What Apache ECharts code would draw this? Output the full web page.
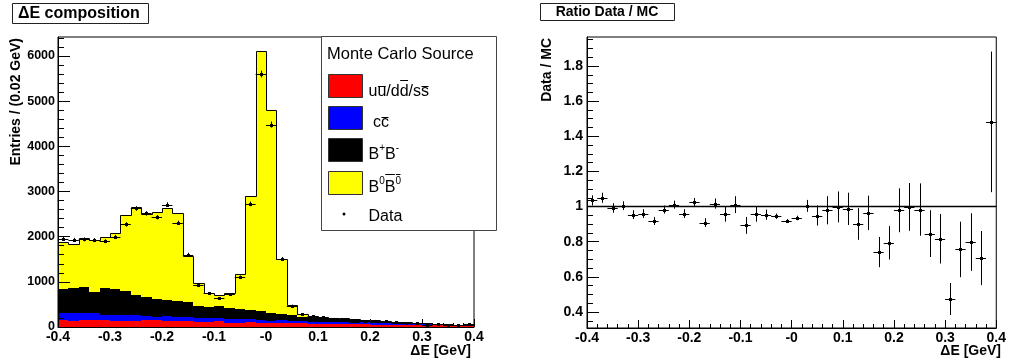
<!DOCTYPE html>
<html><head><meta charset="utf-8">
<script src="https://cdn.jsdelivr.net/npm/echarts@6/dist/echarts.min.js"></script>
<style>html,body{margin:0;padding:0;background:#fff}#c{width:1009px;height:364px}</style>
</head><body><div id="c"></div><script>
// ---------------- data ----------------
const binCenters = [-0.39,-0.37,-0.35,-0.33,-0.31,-0.29,-0.27,-0.25,-0.23,-0.21,-0.19,-0.17,-0.15,-0.13,-0.11,-0.09,-0.07,-0.05,-0.03,-0.01,
  0.01,0.03,0.05,0.07,0.09,0.11,0.13,0.15,0.17,0.19,0.21,0.23,0.25,0.27,0.29,0.31,0.33,0.35,0.37,0.39];
const BIN_W = 0.02;
const udsCounts = [148,140,160,162,160,140,135,140,145,145,140,140,130,110,105,125,85,90,100,95,80,95,85,80,75,70,75,70,60,65,55,50,50,45,45,40,35,35,30,30];
const ccCounts = [160,160,145,140,110,125,130,125,90,85,95,90,85,90,95,75,90,80,75,65,60,50,50,45,45,40,45,40,35,35,30,28,26,24,22,20,18,16,14,12];
const bpbmCounts = [540,563,580,465,585,583,539,450,421,397,370,338,331,265,249,265,238,228,201,201,176,143,130,107,95,90,70,70,75,55,57,49,36,33,25,22,19,12,9,4];
const b0b0Counts = [1040,981,1077,1158,1143,1232,1666,1947,1837,1910,2035,1962,1034,501,293,243,346,767,2515,5745,4484,1217,233,63,30,22,17,12,8,5,4,3,3,3,3,3,3,2,2,1];
const dataCounts = [1950,1930,1940,1925,1900,1995,2270,2625,2515,2430,2710,2305,1605,922,750,633,724,1108,2725,5600,4480,1510,474,289,244,219,187,185,132,127,143,130,113,89,78,40,57,52,39,67];
const dataErr = [44,44,44,44,44,45,48,51,50,49,52,48,40,30,27,25,27,33,52,75,67,39,22,17,16,15,14,14,11,11,12,11,11,9,9,6,8,7,6,8];
const ratioValues = [1.035,1.05,0.992,1.005,0.954,0.96,0.918,0.983,1.011,0.96,1.024,0.909,1.017,0.956,1.011,0.893,0.956,0.954,0.945,0.918,
  0.935,1.004,0.949,0.979,0.998,0.987,0.901,0.964,0.741,0.794,0.979,0.998,0.983,0.846,0.817,0.474,0.756,0.798,0.707,1.482];
const ratioErr = [0.029,0.029,0.027,0.025,0.025,0.025,0.023,0.023,0.023,0.025,0.025,0.025,0.029,0.042,0.048,0.048,0.042,0.029,0.015,0.011,
  0.013,0.034,0.057,0.08,0.088,0.092,0.09,0.098,0.086,0.095,0.125,0.136,0.149,0.133,0.141,0.091,0.158,0.164,0.154,0.40];
const ratioRef = 1;
const xTickValues = [-0.4,-0.3,-0.2,-0.1,0,0.1,0.2,0.3,0.4];
const xTickLabels = ['-0.4','-0.3','-0.2','-0.1','-0','0.1','0.2','0.3','0.4'];
const leftYTicks = [0,1000,2000,3000,4000,5000,6000];
const leftYLabels = ['0','1000','2000','3000','4000','5000','6000'];
const rightYTicks = [0.4,0.6,0.8,1,1.2,1.4,1.6,1.8];
const rightYLabels = ['0.4','0.6','0.8','1','1.2','1.4','1.6','1.8'];
const layerNames = ['uu/dd/ss','cc','B+B-','B0B0'];
const layerColors = ['#ff0000','#0000ff','#000000','#ffff00'];

// ---------------- helpers ----------------
const FONT = '"Liberation Sans", Arial, Helvetica, sans-serif';
const LEFT_MAX = 6420, RIGHT_MIN = 0.309, RIGHT_MAX = 1.965;
function minorList(lo, hi, step, majors) {
  const out = [];
  for (let v = lo; v <= hi + 1e-9; v += step) {
    const r = Math.round(v * 1e6) / 1e6;
    if (!majors.some(m => Math.abs(m - r) < 1e-9)) out.push(r);
  }
  return out;
}
const leftYMinor = minorList(200, 6400, 200, leftYTicks);
const rightYMinor = minorList(0.35, 1.95, 0.05, rightYTicks);

function labelFrom(vals, labels) {
  return v => { const i = vals.findIndex(t => Math.abs(t - v) < 1e-6); return i >= 0 ? labels[i] : ''; };
}

function barItem(params, api) {
  const c = api.value(0), lo = api.value(1), hi = api.value(2);
  const a = api.coord([c - BIN_W / 2, hi]);
  const b = api.coord([c + BIN_W / 2, lo]);
  const x0 = Math.round(a[0]), x1 = Math.round(b[0]);
  const y0 = Math.round(a[1]), y1 = Math.round(b[1]);
  return { type: 'rect', shape: { x: x0, y: y0, width: x1 - x0, height: y1 - y0 }, style: { fill: api.visual('color') } };
}
function outlineItem(params, api) {
  const c = api.value(0), t = api.value(1), prev = api.value(2), last = api.value(3);
  const p1 = api.coord([c - BIN_W / 2, prev]);
  const p2 = api.coord([c - BIN_W / 2, t]);
  const p3 = api.coord([c + BIN_W / 2, t]);
  const xa = Math.round(p1[0]) + 0.5, xb = Math.round(p3[0]) + 0.5, y = Math.round(p2[1]) + 0.5;
  const pts = [[xa, Math.round(p1[1]) + 0.5], [xa, y], [xb, y]];
  if (last) { const p4 = api.coord([c + BIN_W / 2, 0]); pts.push([xb, p4[1]]); }
  return { type: 'polyline', shape: { points: pts }, style: { stroke: '#000', lineWidth: 1, fill: null } };
}
function errItem(params, api) {
  const c = api.value(0), v = api.value(1), e = api.value(2);
  const pl = api.coord([c - BIN_W / 2, v]), pr = api.coord([c + BIN_W / 2, v]);
  const pt = api.coord([c, v + e]), pb = api.coord([c, v - e]);
  const y = Math.round(pl[1]) + 0.5, x = Math.round(pt[0]) + 0.5;
  return { type: 'group', children: [
    { type: 'line', shape: { x1: pl[0], y1: y, x2: pr[0], y2: y }, style: { stroke: '#000', lineWidth: 1 } },
    { type: 'line', shape: { x1: x, y1: pt[1], x2: x, y2: pb[1] }, style: { stroke: '#000', lineWidth: 1 } },
    { type: 'rect', shape: { x: x - 1.5, y: y - 1.5, width: 3, height: 3 }, style: { fill: '#000' } }
  ] };
}

// stacked layers
const layers = [udsCounts, ccCounts, bpbmCounts, b0b0Counts];
let base = binCenters.map(() => 0);
const stackSeries = layers.map((arr, k) => {
  const d = arr.map((v, i) => [binCenters[i], base[i], base[i] + v]);
  base = base.map((b, i) => b + arr[i]);
  return { type: 'custom', name: layerNames[k], xAxisIndex: 0, yAxisIndex: 0, renderItem: barItem, data: d,
    itemStyle: { color: layerColors[k] }, encode: { x: 0, y: [1, 2] }, silent: true, z: 2 };
});
const totals = base;
const outlineData = totals.map((t, i) => [binCenters[i], t, i > 0 ? totals[i - 1] : 0, i === totals.length - 1 ? 1 : 0]);

// ---------------- legend & texts (graphic) ----------------
const mctx = document.createElement('canvas').getContext('2d');
function tw(t, font) { mctx.font = font; return mctx.measureText(t).width; }
function seqText(x, baseline, segs) {
  const els = []; let cx = x;
  segs.forEach(s => {
    const size = s.size || 16;
    const font = size + 'px ' + FONT;
    const w = tw(s.t, font);
    const bl = baseline + (s.dy || 0);
    els.push({ type: 'text', x: cx, y: bl - 0.3465 * size, z: 101,
      style: { text: s.t, font: font, fill: '#000', align: 'left', verticalAlign: 'middle' } });
    if (s.bar != null) {
      els.push({ type: 'line', z: 101, shape: { x1: cx + 0.5, y1: s.bar, x2: cx + w - 0.5, y2: s.bar },
        style: { stroke: '#000', lineWidth: 1 } });
    }
    cx += w;
  });
  return els;
}
const graphics = [];
// title boxes
graphics.push({ type: 'rect', z: 100, shape: { x: 12.5, y: 3.5, width: 136, height: 20 }, style: { fill: '#fff', stroke: '#222', lineWidth: 1 } });
graphics.push({ type: 'text', z: 101, x: 18, y: 13.5, style: { text: '\u0394E composition', font: 'bold 16px ' + FONT, fill: '#000', align: 'left', verticalAlign: 'middle' } });
graphics.push({ type: 'rect', z: 100, shape: { x: 540.5, y: 3.5, width: 134, height: 17 }, style: { fill: '#fff', stroke: '#222', lineWidth: 1 } });
graphics.push({ type: 'text', z: 101, x: 607, y: 12.5, style: { text: 'Ratio Data / MC', font: 'bold 14px ' + FONT, fill: '#000', align: 'center', verticalAlign: 'middle' } });
// axis titles
graphics.push({ type: 'text', z: 101, x: 16, y: 38, rotation: Math.PI / 2, style: { text: 'Entries / (0.02 GeV)', font: 'bold 14px ' + FONT, fill: '#000', align: 'right', verticalAlign: 'middle' } });
graphics.push({ type: 'text', z: 101, x: 547, y: 38, rotation: Math.PI / 2, style: { text: 'Data / MC', font: 'bold 14px ' + FONT, fill: '#000', align: 'right', verticalAlign: 'middle' } });
graphics.push({ type: 'text', z: 101, x: 471, y: 351, style: { text: '\u0394E [GeV]', font: 'bold 14px ' + FONT, fill: '#000', align: 'right', verticalAlign: 'middle' } });
graphics.push({ type: 'text', z: 101, x: 1001, y: 351, style: { text: '\u0394E [GeV]', font: 'bold 14px ' + FONT, fill: '#000', align: 'right', verticalAlign: 'middle' } });
// legend box
graphics.push({ type: 'rect', z: 100, shape: { x: 321.5, y: 36.5, width: 175, height: 194 }, style: { fill: '#fff', stroke: '#444', lineWidth: 1 } });
graphics.push(...seqText(327, 60.5, [{ t: 'Monte Carlo Source', size: 16.5 }]));
const swY = [74, 106, 138, 171];
swY.forEach((y, k) => graphics.push({ type: 'rect', z: 101, shape: { x: 328.5, y: y + 0.5, width: 34, height: 23 }, style: { fill: layerColors[k], stroke: '#333', lineWidth: 1 } }));
graphics.push(...seqText(368.5, 96.7, [{ t: 'u' }, { t: 'u', bar: 86.5 }, { t: '/' }, { t: 'd' }, { t: 'd', bar: 80.5 }, { t: '/' }, { t: 's' }, { t: 's', bar: 86.5 }]));
graphics.push(...seqText(373, 128.5, [{ t: 'c' }, { t: 'c', bar: 117.5 }]));
graphics.push(...seqText(368.5, 160.5, [{ t: 'B' }, { t: '+', size: 10, dy: -9 }, { t: 'B' }, { t: '-', size: 10, dy: -9 }]));
graphics.push(...seqText(368.5, 193.5, [{ t: 'B' }, { t: '0', size: 10, dy: -9 }, { t: 'B', bar: 174.5 }, { t: '0', size: 10, dy: -9, bar: 174.5 }]));
graphics.push({ type: 'circle', z: 101, shape: { cx: 344, cy: 214, r: 1.5 }, style: { fill: '#000' } });
graphics.push(...seqText(368.5, 222.5, [{ t: 'Data' }]));

// ---------------- axes ----------------
const labelStyle = { fontFamily: FONT, fontWeight: 'bold', fontSize: 14, color: '#000' };
function xAxisCfg(gi) {
  return { gridIndex: gi, type: 'value', min: -0.4, max: 0.4, interval: 0.1,
    axisLine: { show: true, onZero: false, lineStyle: { color: '#000', width: 1 } },
    axisTick: { show: true, inside: true, length: 8, lineStyle: { color: '#000' } },
    minorTick: { show: true, splitNumber: 5, length: 4, lineStyle: { color: '#000' } },
    axisLabel: Object.assign({ margin: 3, formatter: labelFrom(xTickValues, xTickLabels) }, labelStyle),
    splitLine: { show: false }, minorSplitLine: { show: false } };
}
function hiddenX(gi) {
  return { gridIndex: gi, type: 'value', min: -0.4, max: 0.4, axisLine: { show: false, onZero: false },
    axisTick: { show: false }, axisLabel: { show: false }, splitLine: { show: false } };
}
function yAxisCfg(gi, min, max, ticks, len, labels, fs, margin) {
  return { gridIndex: gi, type: 'value', min: min, max: max, z: 5,
    axisLine: { show: !!labels, onZero: false, lineStyle: { color: '#000' } },
    axisTick: { show: true, inside: true, length: len, customValues: ticks, lineStyle: { color: '#000' } },
    axisLabel: labels ? Object.assign({ margin: margin, customValues: ticks, formatter: labelFrom(ticks, labels) }, labelStyle, { fontSize: fs }) : { show: false },
    splitLine: { show: false } };
}

const option = {
  animation: false,
  backgroundColor: '#fff',
  textStyle: { fontFamily: FONT },
  grid: [
    { left: 58, top: 37, width: 416, height: 290, show: true, borderColor: '#000', borderWidth: 1, backgroundColor: 'transparent' },
    { left: 587, top: 37, width: 414, height: 291, show: true, borderColor: '#000', borderWidth: 1, backgroundColor: 'transparent' },
    { left: 58, top: 37, width: 416, height: 290 },
    { left: 587, top: 37, width: 414, height: 291 }
  ],
  xAxis: [xAxisCfg(0), xAxisCfg(1), hiddenX(2), hiddenX(3)],
  yAxis: [
    yAxisCfg(0, 0, LEFT_MAX, leftYTicks, 12, leftYLabels, 12.5, 3),
    yAxisCfg(1, RIGHT_MIN, RIGHT_MAX, rightYTicks, 12, rightYLabels, 14, 4),
    yAxisCfg(2, 0, LEFT_MAX, leftYMinor, 6, null),
    yAxisCfg(3, RIGHT_MIN, RIGHT_MAX, rightYMinor, 6, null)
  ],
  graphic: graphics,
  series: [
    ...stackSeries,
    { type: 'custom', name: 'MC total', xAxisIndex: 0, yAxisIndex: 0, renderItem: outlineItem, data: outlineData, silent: true, z: 3 },
    { type: 'custom', name: 'Data', xAxisIndex: 0, yAxisIndex: 0, renderItem: errItem,
      data: dataCounts.map((v, i) => [binCenters[i], v, dataErr[i]]), silent: true, z: 4 },
    { type: 'line', name: 'ref', xAxisIndex: 1, yAxisIndex: 1, showSymbol: false, silent: true,
      data: [[xTickValues[0], ratioRef], [xTickValues[xTickValues.length - 1], ratioRef]],
      lineStyle: { color: '#000', width: 1.5 }, z: 2 },
    { type: 'custom', name: 'Ratio', xAxisIndex: 1, yAxisIndex: 1, renderItem: errItem,
      data: ratioValues.map((v, i) => [binCenters[i], v, ratioErr[i]]), silent: true, z: 4 }
  ]
};
const chart = echarts.init(document.getElementById('c'), null, { renderer: 'canvas', width: 1009, height: 364 });
chart.setOption(option);
</script></body></html>
